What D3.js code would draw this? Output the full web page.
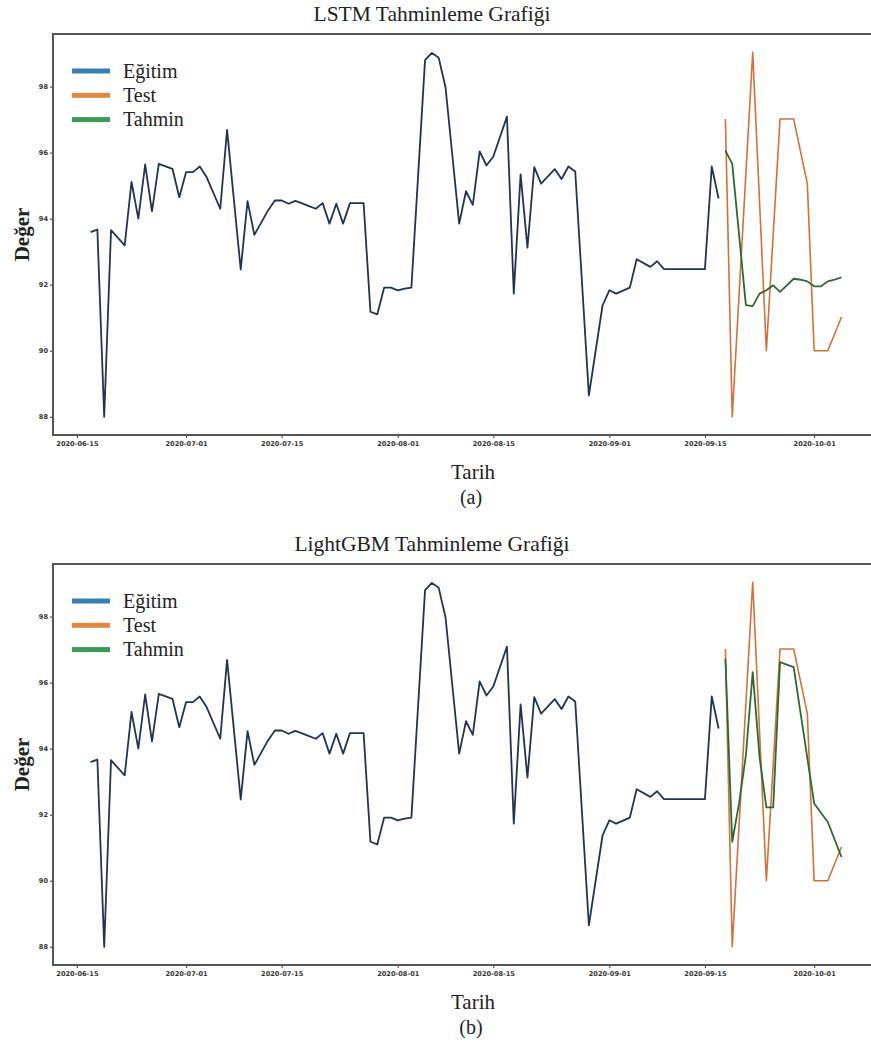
<!DOCTYPE html>
<html lang="tr">
<head>
<meta charset="UTF-8">
<title>Tahminleme Grafikleri</title>
<script src="https://d3js.org/d3.v7.min.js"></script>
<style>
  body { margin: 0; background: #fff; }
  svg { display: block; }
</style>
</head>
<body>
<svg id="chart" width="871" height="1048"></svg>
<script>
// values
const trainDates = [
  "2020-06-17","2020-06-18","2020-06-19","2020-06-20","2020-06-22","2020-06-23","2020-06-24","2020-06-25",
  "2020-06-26","2020-06-27","2020-06-29","2020-06-30","2020-07-01","2020-07-02","2020-07-03","2020-07-04",
  "2020-07-06","2020-07-07","2020-07-09","2020-07-10","2020-07-11","2020-07-13","2020-07-14","2020-07-15",
  "2020-07-16","2020-07-17","2020-07-18","2020-07-19","2020-07-20","2020-07-21","2020-07-22","2020-07-23",
  "2020-07-24","2020-07-25","2020-07-26","2020-07-27","2020-07-28","2020-07-29","2020-07-30","2020-07-31",
  "2020-08-01","2020-08-02","2020-08-03","2020-08-05","2020-08-06","2020-08-07","2020-08-08","2020-08-10",
  "2020-08-11","2020-08-12","2020-08-13","2020-08-14","2020-08-15","2020-08-17","2020-08-18","2020-08-19",
  "2020-08-20","2020-08-21","2020-08-22","2020-08-24","2020-08-25","2020-08-26","2020-08-27","2020-08-29",
  "2020-08-31","2020-09-01","2020-09-02","2020-09-04","2020-09-05","2020-09-07","2020-09-08","2020-09-09",
  "2020-09-15","2020-09-16","2020-09-17"
];
const trainValues = [
  93.59, 93.67, 88.0, 93.65, 93.19, 95.11, 94.0, 95.64,
  94.22, 95.66, 95.51, 94.65, 95.41, 95.41, 95.58, 95.26,
  94.3, 96.69, 92.46, 94.53, 93.51, 94.25, 94.55, 94.55,
  94.45, 94.54, 94.46, 94.38, 94.3, 94.47, 93.85, 94.45,
  93.85, 94.47, 94.47, 94.47, 91.18, 91.1, 91.91, 91.91,
  91.83, 91.88, 91.91, 98.8, 99.02, 98.87, 97.98, 93.85,
  94.83, 94.42, 96.04, 95.61, 95.88, 97.09, 91.73, 95.34,
  93.12, 95.56, 95.06, 95.5, 95.2, 95.58, 95.43, 88.65,
  91.37, 91.83, 91.73, 91.91, 92.77, 92.54, 92.71, 92.47,
  92.47, 95.58, 94.61
];
const testDates = ["2020-09-18","2020-09-19","2020-09-22","2020-09-24","2020-09-26","2020-09-28","2020-09-30","2020-10-01","2020-10-03","2020-10-05"];
const testValues = [97.02, 88.0, 99.04, 90.0, 97.02, 97.02, 95.06, 90.0, 90.0, 91.02];

const lstmDates = ["2020-09-18","2020-09-19","2020-09-21","2020-09-22","2020-09-23","2020-09-24","2020-09-25","2020-09-26","2020-09-27",
  "2020-09-28","2020-09-29","2020-09-30","2020-10-01","2020-10-02","2020-10-03","2020-10-04","2020-10-05"];
const lstmValues = [96.06, 95.66, 91.38, 91.35, 91.73, 91.83, 91.98, 91.78, 91.98, 92.18, 92.15, 92.1, 91.95, 91.95, 92.1, 92.15, 92.22];

const lgbmDates = ["2020-09-18","2020-09-19","2020-09-20","2020-09-21","2020-09-22","2020-09-23","2020-09-24","2020-09-25","2020-09-26",
  "2020-09-28","2020-10-01","2020-10-03","2020-10-05"];
const lgbmValues = [96.72, 91.18, 92.34, 93.8, 96.32, 93.75, 92.22, 92.22, 96.62, 96.47, 92.34, 91.78, 90.72];

const xTickLabels = ["2020-06-15","2020-07-01","2020-07-15","2020-08-01","2020-08-15","2020-09-01","2020-09-15","2020-10-01"];
const yTickValues = [88, 90, 92, 94, 96, 98];
const legendLabels = ["Eğitim", "Test", "Tahmin"];

const parse = d3.utcParse("%Y-%m-%d");
const zip = (ds, vs) => ds.map((d, i) => ({date: parse(d), value: vs[i]}));

const train = zip(trainDates, trainValues);
const test = zip(testDates, testValues);

const lineColors = ["#1f3552", "#d4713a", "#2b6a33"];
const legendColors = ["#3a7fb3", "#e2893d", "#3b9a55"];
const serif = "'Liberation Serif', 'Times New Roman', serif";

const svg = d3.select("#chart");

function panel(top, title, caption, pred) {
  const left = 53, right = 879, height = 401;
  const g = svg.append("g").attr("transform", `translate(0,${top})`);

  const all = train.concat(test, pred);
  const [d0, d1] = d3.extent(all, d => d.date);
  const pad = (d1 - d0) * 0.05;
  const x = d3.scaleUtc().domain([new Date(+d0 - pad), new Date(+d1 + pad)]).range([left, right]);
  const [v0, v1] = d3.extent(all, d => d.value);
  const vp = (v1 - v0) * 0.05;
  const y = d3.scaleLinear().domain([v0 - vp, v1 + vp]).range([height, 0]);

  const line = d3.line().x(d => x(d.date)).y(d => y(d.value));

  g.append("path").datum(train).attr("d", line)
    .attr("fill", "none").attr("stroke", lineColors[0]).attr("stroke-width", 1.8).attr("stroke-linejoin", "round");
  g.append("path").datum(test).attr("d", line)
    .attr("fill", "none").attr("stroke", lineColors[1]).attr("stroke-width", 1.6).attr("stroke-linejoin", "round");
  g.append("path").datum(pred).attr("d", line)
    .attr("fill", "none").attr("stroke", lineColors[2]).attr("stroke-width", 1.8).attr("stroke-linejoin", "round");

  // axes
  const xAxis = d3.axisBottom(x).tickValues(xTickLabels.map(parse))
    .tickFormat(d3.utcFormat("%Y-%m-%d")).tickSize(3).tickPadding(3);
  const gx = g.append("g").attr("transform", `translate(0,${height})`).call(xAxis);
  gx.select(".domain").remove();
  gx.selectAll("line").attr("stroke", "#333");
  gx.selectAll("text").attr("font-family", "'DejaVu Sans', sans-serif").attr("font-size", 6.6)
    .attr("font-weight", "bold").attr("fill", "#333");

  const yAxis = d3.axisLeft(y).tickValues(yTickValues).tickSize(3).tickPadding(2);
  const gy = g.append("g").attr("transform", `translate(${left},0)`).call(yAxis);
  gy.select(".domain").remove();
  gy.selectAll("line").attr("stroke", "#333");
  gy.selectAll("text").attr("font-family", "'DejaVu Sans', sans-serif").attr("font-size", 6.6)
    .attr("font-weight", "bold").attr("fill", "#333");

  // frame
  g.append("rect").attr("x", left).attr("y", 0).attr("width", right - left).attr("height", height)
    .attr("fill", "none").attr("stroke", "#555").attr("stroke-width", 2);

  // legend
  const lg = g.append("g").attr("transform", "translate(72,37)");
  legendLabels.forEach((t, i) => {
    lg.append("rect").attr("x", 0).attr("y", i * 24.3 - 2.5).attr("width", 38).attr("height", 5)
      .attr("fill", legendColors[i]);
    lg.append("text").attr("x", 51).attr("y", i * 24.3 + 6.5).text(t)
      .attr("font-family", serif).attr("font-size", 20).attr("fill", "#222");
  });

  // titles
  g.append("text").attr("x", 432).attr("y", -13).attr("text-anchor", "middle").text(title)
    .attr("font-family", serif).attr("font-size", 21.5).attr("fill", "#222");
  g.append("text").attr("x", 473).attr("y", height + 44).attr("text-anchor", "middle").text("Tarih")
    .attr("font-family", serif).attr("font-size", 21).attr("fill", "#222");
  g.append("text").attr("transform", `translate(29,${height / 2}) rotate(-90)`).attr("text-anchor", "middle")
    .text("Değer").attr("font-family", serif).attr("font-size", 21).attr("font-weight", "bold").attr("fill", "#222");
  g.append("text").attr("x", 471).attr("y", height + 69).attr("text-anchor", "middle").text(caption)
    .attr("font-family", serif).attr("font-size", 20).attr("fill", "#222");
}

panel(34, "LSTM Tahminleme Grafiği", "(a)", zip(lstmDates, lstmValues));
panel(564, "LightGBM Tahminleme Grafiği", "(b)", zip(lgbmDates, lgbmValues));
</script>
</body>
</html>
